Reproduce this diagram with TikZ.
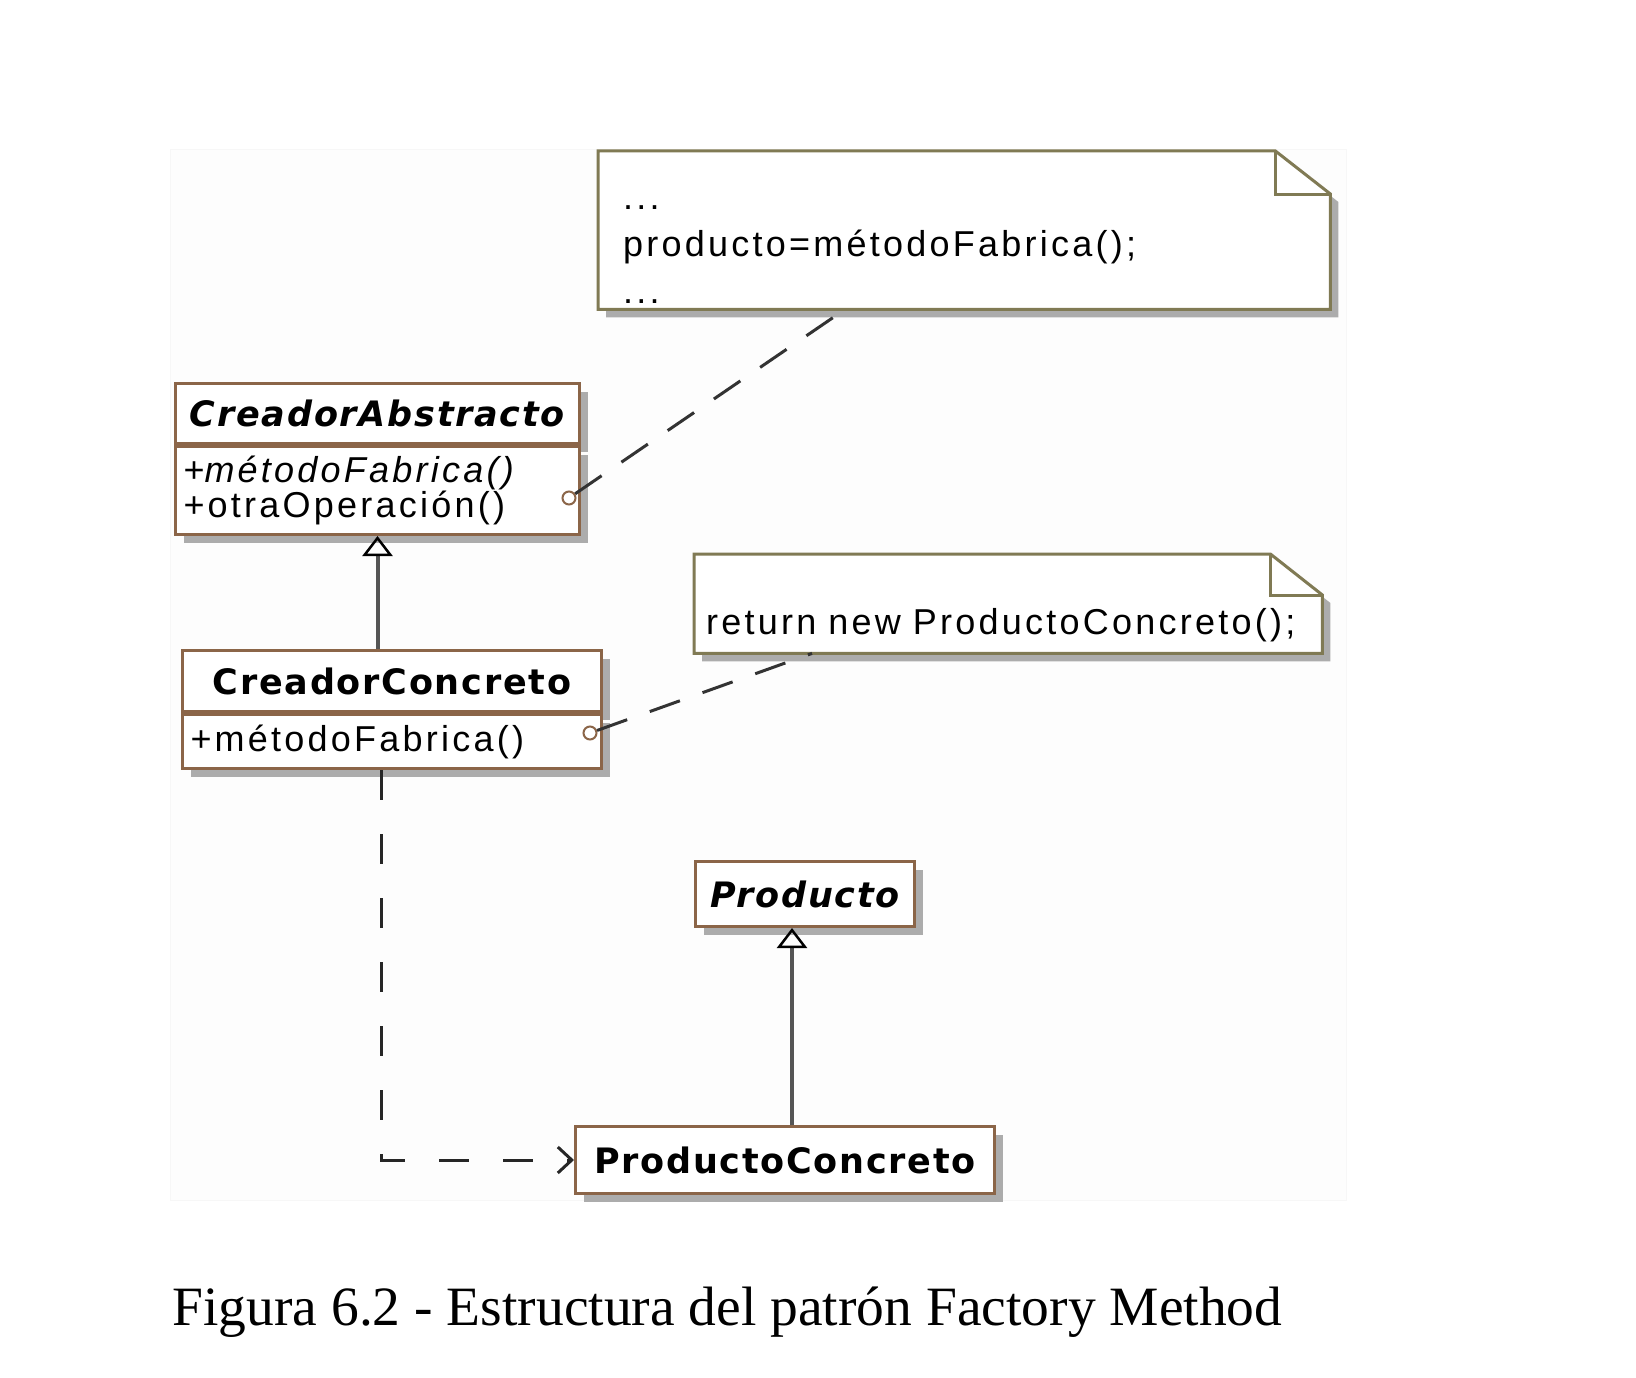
\documentclass[tikz,border=0pt]{standalone}
\usepackage{fontspec}
\setmainfont{Liberation Serif}
\newfontfamily\umltext{Liberation Sans}[LetterSpace=9]
\newfontfamily\umlhead{DejaVu Sans}[LetterSpace=5]
\usetikzlibrary{arrows.meta, calc, shadows}

\definecolor{umlbrown}{RGB}{139,101,72}
\definecolor{noteolive}{RGB}{128,122,84}
\definecolor{shadowgray}{RGB}{172,172,172}
\definecolor{linkgray}{RGB}{85,85,85}

\pgfdeclarelayer{panel}
\pgfdeclarelayer{notes}
\pgfsetlayers{panel,notes,main}

\tikzset{
    uml box/.style={draw=umlbrown, line width=3pt, fill=white, inner sep=0pt,
                    anchor=north west,
                    general shadow={fill=shadowgray, shadow xshift=8pt,
                                    shadow yshift=-8pt}},
    uml head/.style={uml box, minimum width=#1, minimum height=60pt,
                     font=\umlhead\bfseries\fontsize{35}{40}\selectfont},
    uml ops/.style={uml box, text width=#1, inner xsep=8pt, align=left,
                    font=\umltext\fontsize{36}{35}\selectfont},
    uml note/.style={anchor=north west, inner xsep=25pt, inner ysep=0pt,
                     text width=#1, align=left,
                     font=\umltext\fontsize{36}{47}\selectfont},
    note line/.style={draw=noteolive, line width=3pt},
    uml dot/.style={circle, draw=umlbrown, line width=2pt, fill=white,
                    minimum size=13pt, inner sep=0pt},
    note link/.style={line width=3pt, black!80, dash pattern=on 32pt off 24pt},
    uml gen/.style={line width=4pt, linkgray,
                    -{Triangle[open, length=20pt, width=30pt, line width=2.5pt, black]}},
    uml dep/.style={line width=3pt, black!85, dash pattern=on 30pt off 34pt,
                    -{Straight Barb[length=14pt, width=26pt, line width=3pt]}},
    fig caption/.style={anchor=base west, font=\fontsize{55.5}{60}\selectfont},
}

% note outline with folded corner: node, fold width, fold height
\newcommand{\drawnote}[3]{%
    \begin{pgfonlayer}{notes}
        \fill[shadowgray, transform canvas={xshift=8pt, yshift=-8pt}]
            (#1.north west) -- ($(#1.north east)+(-#2,0)$)
            -- ($(#1.north east)+(0,#3)$) -- (#1.south east)
            -- (#1.south west) -- cycle;
        \draw[note line, fill=white]
            (#1.north west) -- ($(#1.north east)+(-#2,0)$)
            -- ($(#1.north east)+(0,#3)$) -- (#1.south east)
            -- (#1.south west) -- cycle;
        \draw[note line] ($(#1.north east)+(-#2,0)$) |- ($(#1.north east)+(0,#3)$);
    \end{pgfonlayer}}

\begin{document}
\begin{tikzpicture}[x=1pt, y=-1pt]
    \useasboundingbox (0,0) rectangle (1636,1378);
    \begin{pgfonlayer}{panel}
        \draw[fill=black!0.8, draw=black!3] (170,149) rectangle (1346,1200);
    \end{pgfonlayer}

    % Notes
    \node[uml note=682pt, minimum height=158pt] (note1) at (598,151)
        {\rule{0pt}{58pt}...\\\strut producto=métodoFabrica();\\\rule[-5pt]{0pt}{5pt}...};
    \node[uml note=604pt, inner xsep=12pt, minimum height=99pt] (note2) at (694,554)
        {\rule[-7pt]{0pt}{77pt}return new ProductoConcreto();};
    \drawnote{note1}{55}{43}
    \drawnote{note2}{52}{41}

    % Creators
    \node[uml head=404pt] (cahead) at (174,382) {\itshape CreadorAbstracto};
    \node[uml ops=388pt, minimum height=88pt] (caops) at (cahead.south west)
        {+{\itshape métodoFabrica()}\\+otraOperación()};
    \node[uml head=419pt, minimum height=61pt] (cchead) at (181,649) {CreadorConcreto};
    \node[uml ops=403pt, minimum height=54pt] (ccops) at (cchead.south west)
        {+métodoFabrica()};

    % Products
    \node[uml head=219pt, minimum height=65pt] (prod) at (694,860) {\itshape Producto};
    \node[uml head=419pt, minimum height=67pt] (prodconc) at (574,1125) {ProductoConcreto};

    % Note anchors on the operations
    \node[uml dot] (cadot) at (569,498) {};
    \node[uml dot] (ccdot) at (590,733) {};
    \coordinate (n1foot) at ($(note1.south west)+(247,0)$);
    \coordinate (n2foot) at ($(note2.south west)+(118,0)$);
    \draw[note link] (cadot) -- (n1foot);
    \draw[note link] (ccdot) -- (n2foot);

    % Generalisations
    \draw[uml gen] (cchead.north -| caops.south) -- (caops.south);
    \coordinate (prodfoot) at ($(prod.south west)+(98,0)$);
    \draw[uml gen] (prodconc.north -| prodfoot) -- (prodfoot);

    % Dependency
    \coordinate (ccfoot) at ($(ccops.south west)+(200,0)$);
    \draw[uml dep] (ccfoot) |- (prodconc.west);

    \node[fig caption] (caption) at (169,1325)
        {Figura 6.2 - Estructura del patrón Factory Method};
\end{tikzpicture}
\end{document}
